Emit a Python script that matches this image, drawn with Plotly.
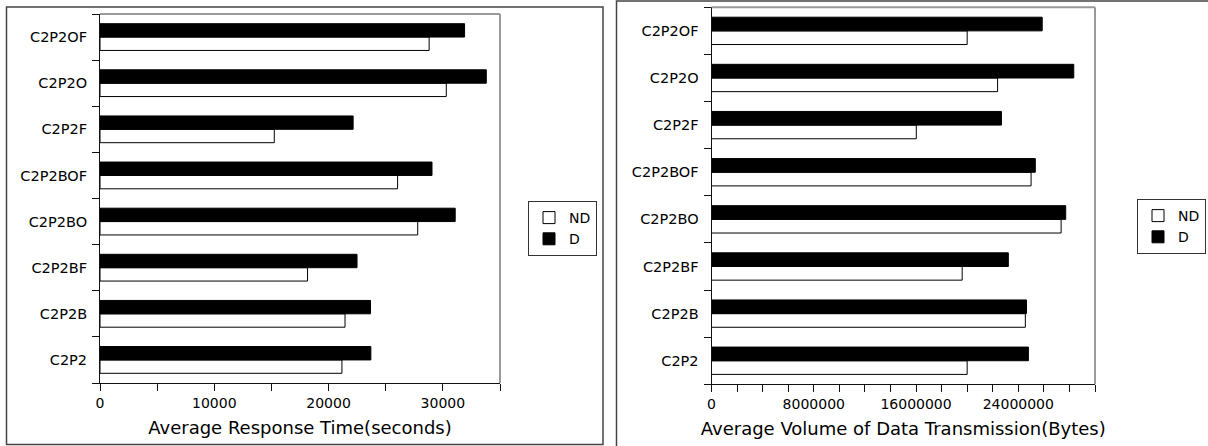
import plotly.graph_objects as go

W, H = 1208, 446

categories = ["C2P2", "C2P2B", "C2P2BF", "C2P2BO", "C2P2BOF", "C2P2F", "C2P2O", "C2P2OF"]

# Average response time (seconds)
time_nd = [21170, 21440, 18160, 27800, 26040, 15250, 30300, 28800]
time_d = [23700, 23670, 22490, 31080, 29050, 22150, 33800, 31900]

# Average volume of data transmission (bytes)
bytes_nd = [20000000, 24550000, 19610000, 27350000, 25000000, 16020000, 22380000, 20000000]
bytes_d = [24790000, 24640000, 23220000, 27710000, 25330000, 22680000, 28340000, 25870000]

time_ticks = [0, 5000, 10000, 15000, 20000, 25000, 30000, 35000]
time_ticklabels = ["0", "", "10000", "", "20000", "", "30000", ""]
bytes_ticks = [i * 2000000 for i in range(16)]
bytes_ticklabels = ["0", "", "", "", "8000000", "", "", "", "16000000", "", "", "", "24000000", "", "", ""]

FONT = "DejaVu Sans"

def px_x(v):
    return v / W

def px_y(v):
    return 1 - v / H

fig = go.Figure()

# left panel bars
fig.add_trace(go.Bar(y=categories, x=time_nd, orientation="h", name="ND",
                     marker=dict(color="white", line=dict(color="black", width=1)),
                     xaxis="x", yaxis="y", legend="legend"))
fig.add_trace(go.Bar(y=categories, x=time_d, orientation="h", name="D",
                     marker=dict(color="black", line=dict(color="black", width=1)),
                     xaxis="x", yaxis="y", legend="legend"))
# right panel bars
fig.add_trace(go.Bar(y=categories, x=bytes_nd, orientation="h", name="ND",
                     marker=dict(color="white", line=dict(color="black", width=1)),
                     xaxis="x2", yaxis="y2", legend="legend2"))
fig.add_trace(go.Bar(y=categories, x=bytes_d, orientation="h", name="D",
                     marker=dict(color="black", line=dict(color="black", width=1)),
                     xaxis="x2", yaxis="y2", legend="legend2"))

xcommon = dict(showgrid=False, zeroline=False, showline=True, linecolor="#111", linewidth=1,
               ticks="outside", ticklen=7, tickcolor="#111", tickwidth=1,
               tickfont=dict(family=FONT, size=14, color="black"))
ycommon = dict(showgrid=False, zeroline=False, showline=True, linecolor="#111", linewidth=1,
               ticks="outside", ticklen=7, tickcolor="#111", tickwidth=1,
               tickson="boundaries", type="category", ticklabelstandoff=9,
               categoryorder="array", categoryarray=categories,
               tickfont=dict(family=FONT, size=14.5, color="black"))

fig.update_layout(
    width=W, height=H,
    margin=dict(l=0, r=0, t=0, b=0, autoexpand=False),
    paper_bgcolor="white", plot_bgcolor="white",
    barmode="group", bargap=0.42, bargroupgap=0,
    font=dict(family=FONT, color="black"),
    xaxis=dict(domain=[px_x(100), px_x(500)], anchor="y", range=[0, 35000],
               tickvals=time_ticks, ticktext=time_ticklabels,
               title=dict(text="Average Response Time(seconds)",
                          font=dict(family=FONT, size=18, color="black"), standoff=11),
               **xcommon),
    yaxis=dict(domain=[px_y(383), px_y(14)], anchor="x", **ycommon),
    xaxis2=dict(domain=[px_x(711.5), px_x(1095)], anchor="y2", range=[0, 30000000],
                tickvals=bytes_ticks, ticktext=bytes_ticklabels,
                title=dict(text="Average Volume of Data Transmission(Bytes)",
                           font=dict(family=FONT, size=18, color="black"), standoff=11),
                **xcommon),
    yaxis2=dict(domain=[px_y(384.3), px_y(7.3)], anchor="x2", **ycommon),
    legend=dict(x=px_x(597), y=px_y(201), xanchor="right", yanchor="top",
                bordercolor="#333", borderwidth=1, bgcolor="white",
                font=dict(family=FONT, size=14, color="black"), tracegroupgap=0),
    legend2=dict(x=px_x(1206), y=px_y(199), xanchor="right", yanchor="top",
                 bordercolor="#333", borderwidth=1, bgcolor="white",
                 font=dict(family=FONT, size=14, color="black"), tracegroupgap=0),
)

shapes = []
# gray top/right frame of each plot area
for xr, yr in (("x domain", "y domain"), ("x2 domain", "y2 domain")):
    shapes.append(dict(type="line", xref=xr, yref=yr, x0=0, x1=1, y0=1, y1=1,
                       line=dict(color="#999", width=2)))
    shapes.append(dict(type="line", xref=xr, yref=yr, x0=1, x1=1, y0=0, y1=1,
                       line=dict(color="#999", width=2)))
# outer panel borders
shapes.append(dict(type="rect", xref="paper", yref="paper",
                   x0=px_x(6.5), x1=px_x(603), y0=px_y(444.5), y1=px_y(7),
                   line=dict(color="#444", width=1.5)))
shapes.append(dict(type="rect", xref="paper", yref="paper",
                   x0=px_x(616.5), x1=px_x(1212), y0=px_y(450), y1=px_y(1),
                   line=dict(color="#444", width=1.5)))
fig.update_layout(shapes=shapes)

fig.write_html("out.html")
